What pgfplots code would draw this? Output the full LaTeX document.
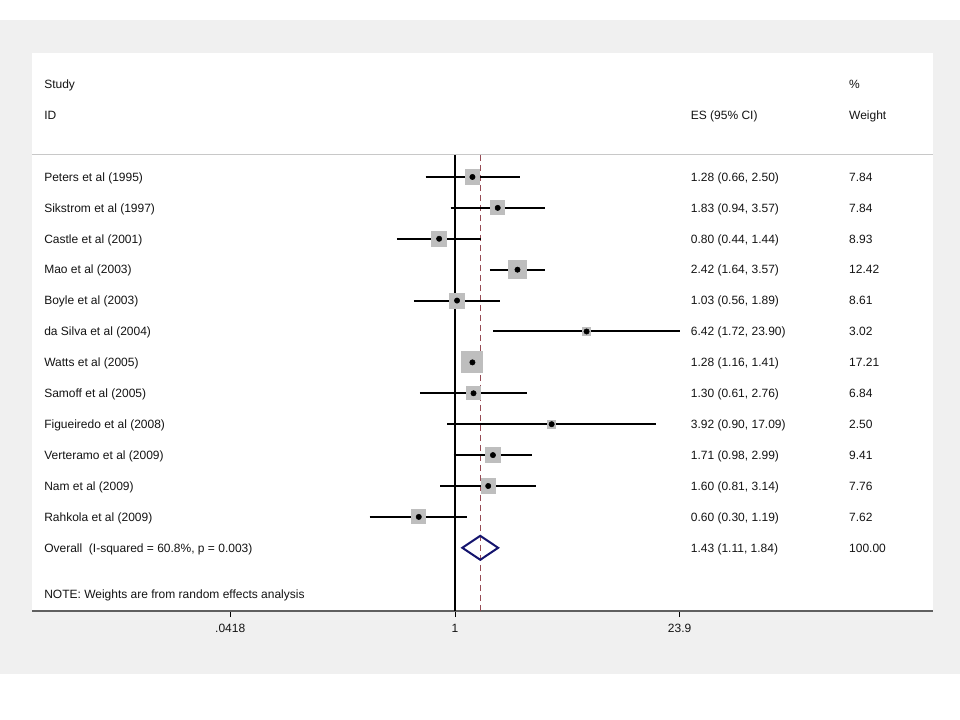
\documentclass[border=0pt]{standalone}
\usepackage{pgfplots}
\pgfplotsset{compat=1.18}
\usepackage{pgfplotstable}
\usepackage{fontspec}
\setmainfont{Liberation Sans}
\definecolor{bggray}{RGB}{240,240,240}
\definecolor{sqgray}{RGB}{190,190,190}
\definecolor{refred}{RGB}{150,75,85}
\definecolor{sepgray}{RGB}{200,200,200}
\definecolor{axgray}{RGB}{96,96,96}
\definecolor{navy}{RGB}{20,20,110}
\definecolor{txt}{RGB}{20,20,20}
\newcommand{\tf}{\fontsize{9}{10.8}\selectfont}

% row, effect size, lower CI, upper CI, weight (%)
\pgfplotstableread{
row es lo hi w
1 1.28 0.66 2.50 7.84
2 1.83 0.94 3.57 7.84
3 0.80 0.44 1.44 8.93
4 2.42 1.64 3.57 12.42
5 1.03 0.56 1.89 8.61
6 6.42 1.72 23.90 3.02
7 1.28 1.16 1.41 17.21
8 1.30 0.61 2.76 6.84
9 3.92 0.90 17.09 2.50
10 1.71 0.98 2.99 9.41
11 1.60 0.81 3.14 7.76
12 0.60 0.30 1.19 7.62
}\studies

\begin{document}
\begin{tikzpicture}
\path[use as bounding box, fill=white] (0,0) rectangle (720pt,540pt);
\fill[bggray] (0,34.3pt) rectangle (720pt,525pt);
\begin{axis}[
  at={(24.2pt,81.75pt)}, anchor=south west,
  scale only axis, width=675.75pt, height=418.3pt,
  xmode=log, xmin=0.002553, xmax=859.5,
  ymin=-3.003, ymax=15.045, y dir=reverse,
  axis x line*=bottom, axis y line=none,
  axis line style={axgray, line width=1.5pt},
  axis background/.style={fill=white},
  xtick={0.0418,1,23.9}, xticklabels={.0418,1,23.9},
  xminorticks=false,
  tick align=outside, tick pos=bottom,
  major tick length=4.5pt,
  every tick/.style={black, line width=0.6pt},
  xticklabel style={font=\tf, text=txt, yshift=-2pt},
  /pgf/number format/assume math mode=true,
  clip=false,
]
% separator line
\addplot[sepgray, line width=0.75pt] coordinates {(0.002553,0.288) (859.5,0.288)};
% line of no effect and overall effect line
\addplot[black, line width=0.9pt] coordinates {(1,0.288) (1,15.045)};
\addplot[refred, line width=0.9pt, dash pattern=on 4.5pt off 3pt] coordinates {(1.43,0.288) (1.43,15.045)};
% weight squares (area proportional to weight)
\addplot[sqgray, scatter, only marks, mark=square*,
  mark options={draw=sqgray, fill=sqgray, line width=0pt},
  scatter/use mapped color={draw=sqgray, fill=sqgray},
  visualization depends on={1.9*sqrt(\thisrow{w}) \as \msize},
  scatter/@pre marker code/.append style={/tikz/mark size=\msize}]
  table[x=es, y=row] {\studies};
% confidence intervals
\addplot[black, line width=1.5pt, unbounded coords=jump] coordinates {
(0.66,1) (2.50,1) (1,nan)
(0.94,2) (3.57,2) (1,nan)
(0.44,3) (1.44,3) (1,nan)
(1.64,4) (3.57,4) (1,nan)
(0.56,5) (1.89,5) (1,nan)
(1.72,6) (23.90,6) (1,nan)
(1.16,7) (1.41,7) (1,nan)
(0.61,8) (2.76,8) (1,nan)
(0.90,9) (17.09,9) (1,nan)
(0.98,10) (2.99,10) (1,nan)
(0.81,11) (3.14,11) (1,nan)
(0.30,12) (1.19,12)
};
% point estimates
\addplot[only marks, mark=*, mark size=2pt, black] table[x=es, y=row] {\studies};
% overall diamond
\addplot[navy, line width=1.5pt, line join=miter] coordinates {(1.11,13) (1.43,12.612) (1.84,13) (1.43,13.388) (1.11,13)} -- cycle;

% text columns
\tikzset{lab/.style={anchor=west, inner sep=0pt, font=\tf, text=txt, text height=6.45pt, text depth=0pt}}
\node[lab] at (axis cs:0.003014,-2) {Study};
\node[lab] at (axis cs:0.003014,-1) {ID};
\node[lab] at (axis cs:27.91,-1) {ES (95\% CI)};
\node[lab] at (axis cs:261.1,-2) {\%};
\node[lab] at (axis cs:261.1,-1) {Weight};

\node[lab] at (axis cs:0.003014,1) {Peters et al (1995)};
\node[lab] at (axis cs:0.003014,2) {Sikstrom et al (1997)};
\node[lab] at (axis cs:0.003014,3) {Castle et al (2001)};
\node[lab] at (axis cs:0.003014,4) {Mao et al (2003)};
\node[lab] at (axis cs:0.003014,5) {Boyle et al (2003)};
\node[lab] at (axis cs:0.003014,6) {da Silva et al (2004)};
\node[lab] at (axis cs:0.003014,7) {Watts et al (2005)};
\node[lab] at (axis cs:0.003014,8) {Samoff et al (2005)};
\node[lab] at (axis cs:0.003014,9) {Figueiredo et al (2008)};
\node[lab] at (axis cs:0.003014,10) {Verteramo et al (2009)};
\node[lab] at (axis cs:0.003014,11) {Nam et al (2009)};
\node[lab] at (axis cs:0.003014,12) {Rahkola et al (2009)};
\node[lab] at (axis cs:0.003014,13) {Overall\ \ (I-squared = 60.8\%, p = 0.003)};
\node[lab] at (axis cs:0.003014,14.49) {NOTE: Weights are from random effects analysis};

\node[lab] at (axis cs:27.91,1) {1.28 (0.66, 2.50)};
\node[lab] at (axis cs:27.91,2) {1.83 (0.94, 3.57)};
\node[lab] at (axis cs:27.91,3) {0.80 (0.44, 1.44)};
\node[lab] at (axis cs:27.91,4) {2.42 (1.64, 3.57)};
\node[lab] at (axis cs:27.91,5) {1.03 (0.56, 1.89)};
\node[lab] at (axis cs:27.91,6) {6.42 (1.72, 23.90)};
\node[lab] at (axis cs:27.91,7) {1.28 (1.16, 1.41)};
\node[lab] at (axis cs:27.91,8) {1.30 (0.61, 2.76)};
\node[lab] at (axis cs:27.91,9) {3.92 (0.90, 17.09)};
\node[lab] at (axis cs:27.91,10) {1.71 (0.98, 2.99)};
\node[lab] at (axis cs:27.91,11) {1.60 (0.81, 3.14)};
\node[lab] at (axis cs:27.91,12) {0.60 (0.30, 1.19)};
\node[lab] at (axis cs:27.91,13) {1.43 (1.11, 1.84)};

\node[lab] at (axis cs:261.1,1) {7.84};
\node[lab] at (axis cs:261.1,2) {7.84};
\node[lab] at (axis cs:261.1,3) {8.93};
\node[lab] at (axis cs:261.1,4) {12.42};
\node[lab] at (axis cs:261.1,5) {8.61};
\node[lab] at (axis cs:261.1,6) {3.02};
\node[lab] at (axis cs:261.1,7) {17.21};
\node[lab] at (axis cs:261.1,8) {6.84};
\node[lab] at (axis cs:261.1,9) {2.50};
\node[lab] at (axis cs:261.1,10) {9.41};
\node[lab] at (axis cs:261.1,11) {7.76};
\node[lab] at (axis cs:261.1,12) {7.62};
\node[lab] at (axis cs:261.1,13) {100.00};
\end{axis}
\end{tikzpicture}
\end{document}
